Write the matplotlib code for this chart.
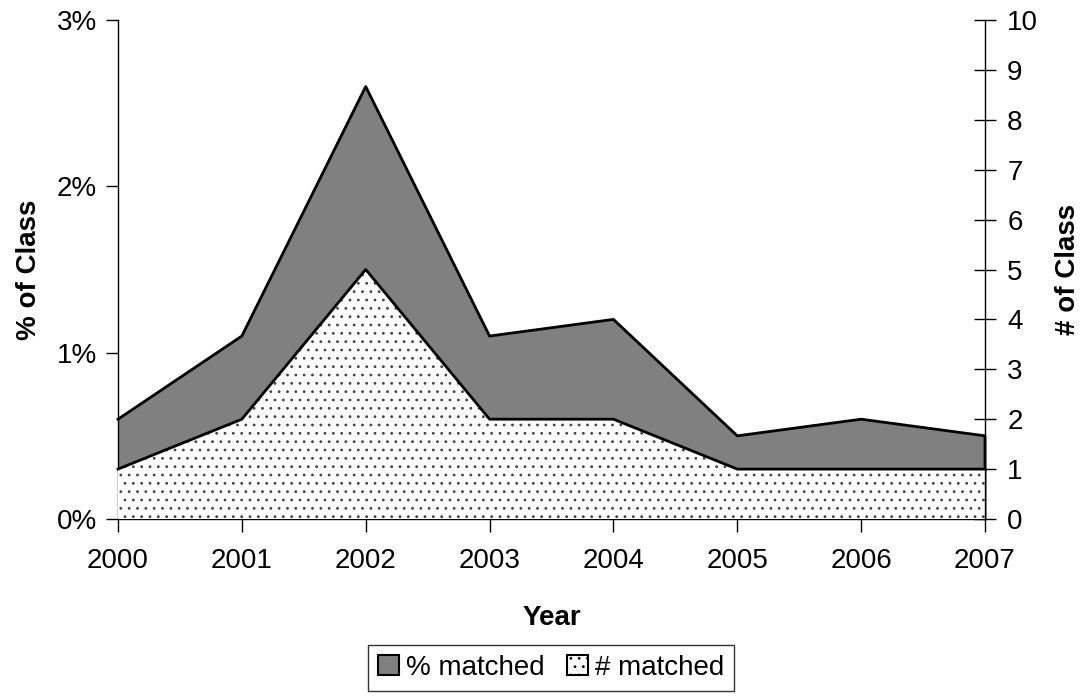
import matplotlib
matplotlib.use("Agg")
import matplotlib.pyplot as plt
from matplotlib.patches import Patch
from matplotlib.ticker import FuncFormatter

plt.rcParams['font.family'] = ['Liberation Sans', 'DejaVu Sans']
plt.rcParams['hatch.linewidth'] = 0.8

years = [2000, 2001, 2002, 2003, 2004, 2005, 2006, 2007]
pct_matched = [0.6, 1.1, 2.6, 1.1, 1.2, 0.5, 0.6, 0.5]   # % of class
num_matched = [1, 2, 5, 2, 2, 1, 1, 1]                   # # of class

FS = 20

fig = plt.figure(figsize=(10.86, 7.0), dpi=100)
ax = fig.add_axes([118/1086, 1-519/700, (985-118)/1086, (519-20)/700])
ax2 = ax.twinx()

ax.fill_between(years, 0, pct_matched, facecolor='#808080', edgecolor='none', zorder=1)
ax.plot(years + [years[-1]], pct_matched + [0], color='black', lw=2, zorder=3, clip_on=False)

ax2.fill_between(years, 0, num_matched, facecolor='white', edgecolor='#444444', hatch='..', linewidth=0, zorder=2)
ax2.plot(years, num_matched, color='black', lw=2, zorder=3, clip_on=False)

ax.set_xlim(2000, 2007)
ax.set_ylim(0, 3)
ax2.set_ylim(0, 10)
ax.set_yticks([0, 1, 2, 3])
ax.yaxis.set_major_formatter(FuncFormatter(lambda v, p: f"{int(round(v))}%"))
ax2.set_yticks(range(0, 11))
ax.set_xticks(years)

for a in (ax, ax2):
    a.spines['top'].set_visible(False)
ax.spines['right'].set_visible(False)
ax2.spines['left'].set_visible(False)
ax2.spines['bottom'].set_visible(False)
for s in ['left', 'bottom']:
    ax.spines[s].set_linewidth(1.0)
ax2.spines['right'].set_linewidth(1.0)

ax.tick_params(axis='both', labelsize=FS, length=9, width=1, direction='out')
ax.tick_params(axis='y', pad=6)
ax2.tick_params(axis='y', labelsize=FS, length=16, width=1, direction='inout', pad=8)
ax.tick_params(axis='x', pad=12)

ax.set_xlabel('Year', fontsize=FS, fontweight='bold', labelpad=22)
ax.set_ylabel('% of Class', fontsize=FS, fontweight='bold', labelpad=11)
ax2.set_ylabel('# of Class', fontsize=FS, fontweight='bold', labelpad=12)

handles = [Patch(facecolor='#808080', edgecolor='black', linewidth=1.5, label='% matched'),
           Patch(facecolor='white', edgecolor='black', linewidth=1.5, hatch='..', label='# matched')]
leg = fig.legend(handles=handles, loc='center', bbox_to_anchor=(551/1086, 1-668/700),
                 ncol=2, fontsize=FS, frameon=True, fancybox=False, edgecolor='black',
                 handlelength=0.75, handleheight=0.75, handletextpad=0.25, columnspacing=0.8,
                 borderpad=0.35, borderaxespad=0)
leg.get_frame().set_linewidth(1.0)

fig.savefig('out.png', dpi=100)
